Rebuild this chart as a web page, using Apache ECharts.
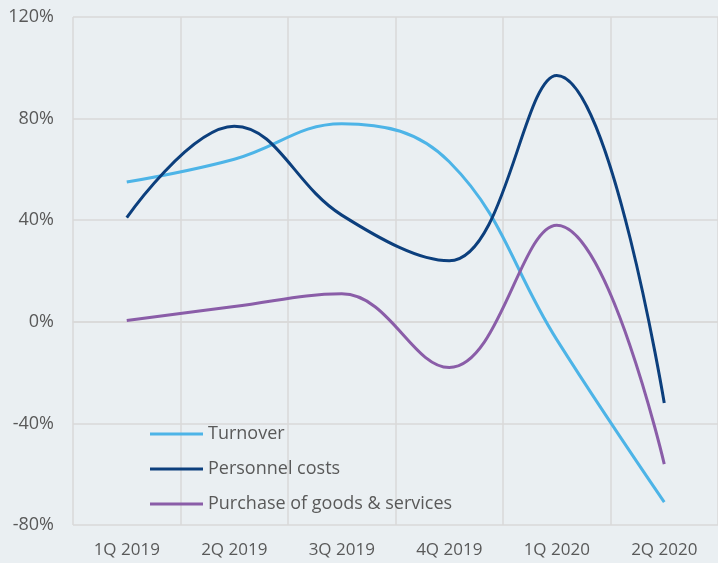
<!DOCTYPE html>
<html>
<head>
<meta charset="utf-8">
<script src="https://cdn.jsdelivr.net/npm/echarts@6/dist/echarts.min.js"></script>
<style>
  html, body { margin: 0; padding: 0; background: #eaeff2; }
  #main { width: 718px; height: 563px; }
</style>
</head>
<body>
<div id="main"></div>
<script>
// quarters on the x axis
const categories = ['1Q 2019', '2Q 2019', '3Q 2019', '4Q 2019', '1Q 2020', '2Q 2020']
// year-on-year change, %
const turnover = [55, 64, 78, 63, -7, -71]
const personnelCosts = [41, 77, 42, 24, 97, -32]
const purchaseGoods = [0.5, 6, 11, -18, 38, -56]

const chart = echarts.init(document.getElementById('main'))

const axisText = { fontFamily: 'Open Sans', fontSize: 18, color: '#595959' }
const gridLine = { color: '#d9d9d9', width: 1.5 }

const mkLine = (name, data, color) => ({
  name: name,
  type: 'line',
  data: data,
  smooth: 0.4,
  symbol: 'none',
  lineStyle: { color: color, width: 3 },
  itemStyle: { color: color }
})

const optionData = {
  backgroundColor: '#eaeff2',
  animation: false,
  grid: { left: 73, top: 17, width: 648, height: 508 },
  legend: {
    orient: 'vertical',
    left: 150,
    top: 424,
    padding: 0,
    icon: 'rect',
    itemWidth: 53,
    itemHeight: 3,
    itemGap: 15,
    textStyle: { fontFamily: 'Open Sans', fontSize: 18, color: '#595959', lineHeight: 20 }
  },
  xAxis: {
    type: 'category',
    data: categories,
    boundaryGap: true,
    axisTick: { show: false },
    axisLine: { lineStyle: gridLine },
    axisLabel: Object.assign({ margin: 17 }, axisText, { fontSize: 17 }),
    splitLine: { show: true, lineStyle: gridLine }
  },
  yAxis: {
    type: 'value',
    min: -80,
    max: 120,
    interval: 40,
    axisLine: { show: false },
    axisTick: { show: false },
    axisLabel: Object.assign({ margin: 19, formatter: '{value}%' }, axisText),
    splitLine: { show: true, lineStyle: gridLine }
  },
  series: [
    mkLine('Turnover', turnover, '#4db4e7'),
    mkLine('Personnel costs', personnelCosts, '#0c3f7d'),
    mkLine('Purchase of goods & services', purchaseGoods, '#8a5da8')
  ]
}

chart.setOption(optionData)
</script>
</body>
</html>
